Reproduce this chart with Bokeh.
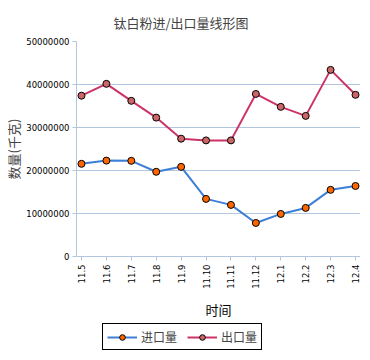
from bokeh.plotting import figure
from bokeh.models import (Range1d, FixedTicker, PrintfTickFormatter, Legend, LegendItem, Title,
                          LinearAxis, Label)
from bokeh.embed import file_html
from bokeh.resources import INLINE

months = ["11.5", "11.6", "11.7", "11.8", "11.9", "11.10", "11.11", "11.12", "12.1", "12.2", "12.3", "12.4"]
imports = [21550000, 22300000, 22250000, 19700000, 20850000, 13400000, 12000000, 7800000, 9900000, 11300000, 15500000, 16400000]
exports = [37400000, 40150000, 36200000, 32300000, 27400000, 27000000, 27000000, 37800000, 34800000, 32700000, 43400000, 37600000]
y_ticks = [0, 10000000, 20000000, 30000000, 40000000, 50000000]

GRID = "#B3C6E0"
CJK = "Noto Sans CJK SC"
NUM = "DejaVu Sans"

xs = list(range(len(months)))
Y_MAX = 50000000
PLOT_H = 215      # pixel height of the value area
EXTRA_H = 95      # room below the value area for tick labels, axis title and legend
y_start = -Y_MAX * EXTRA_H / PLOT_H
X_PAD = 0.2       # small side padding so the first/last tick labels are not clipped

p = figure(frame_width=284, frame_height=PLOT_H + EXTRA_H, output_backend="svg", toolbar_location=None,
           x_range=Range1d(-X_PAD, len(months) - 1 + X_PAD), y_range=Range1d(y_start, Y_MAX),
           min_border_left=70, min_border_right=0, min_border_top=34, min_border_bottom=0)
p.title = None
p.add_layout(Title(text="钛白粉进/出口量线形图", text_font=CJK, text_font_size="13px",
                   text_font_style="normal", align="left", offset=37, standoff=20), "above")

p.background_fill_color = "white"
p.border_fill_color = "white"
p.outline_line_color = None

p.xgrid.visible = False
p.ygrid.grid_line_color = GRID
p.ygrid.grid_line_width = 1
p.ygrid.ticker = FixedTicker(ticks=y_ticks)

p.yaxis.ticker = FixedTicker(ticks=y_ticks)
p.yaxis.formatter = PrintfTickFormatter(format="%d")
p.yaxis.bounds = (0, Y_MAX)
p.xaxis.ticker = FixedTicker(ticks=xs)
p.xaxis.major_label_overrides = {i: m for i, m in enumerate(months)}
p.xaxis.major_label_orientation = 1.5708
p.xaxis.fixed_location = 0

for ax in (p.xaxis, p.yaxis):
    ax.axis_line_color = GRID
    ax.major_tick_line_color = GRID
    ax.major_tick_out = 4
    ax.major_tick_in = 0
    ax.minor_tick_line_color = None
    ax.major_label_text_font = NUM
    ax.major_label_text_font_size = "8.5px"
    ax.major_label_text_color = "black"

p.yaxis.major_label_standoff = 3
p.xaxis.major_label_standoff = 4

# right border of the value area
right_ax = LinearAxis(ticker=FixedTicker(ticks=[]), bounds=(0, Y_MAX), axis_line_color=GRID,
                      major_tick_line_color=None, minor_tick_line_color=None,
                      major_tick_out=0, major_tick_in=0, major_label_standoff=0,
                      major_label_text_font_size="0px")
p.add_layout(right_ax, "right")

# y axis title
p.add_layout(Title(text="数量(千克)", text_font=CJK, text_font_size="13px", text_font_style="normal",
                   align="left", offset=172, standoff=2), "left")

# x axis title
p.add_layout(Label(x=142, y=42, x_units="screen", y_units="screen", text="时间",
                   text_font=CJK, text_font_size="13px", text_align="center",
                   text_baseline="middle", text_color="black"))

l1 = p.line(xs, imports, line_color="#3D7FD6", line_width=2)
c1 = p.scatter(xs, imports, size=7, fill_color="#FF6600", line_color="black", line_width=1)
l2 = p.line(xs, exports, line_color="#CC3366", line_width=2)
c2 = p.scatter(xs, exports, size=7, fill_color="#CC6666", line_color="black", line_width=1)

legend = Legend(items=[LegendItem(label="进口量", renderers=[l1, c1]),
                       LegendItem(label="出口量", renderers=[l2, c2])],
                location=(26, 1), orientation="horizontal",
                label_text_font=CJK, label_text_font_size="12px",
                border_line_color="black", border_line_width=1, border_line_alpha=1,
                background_fill_color="white", background_fill_alpha=1,
                padding=4, margin=0, spacing=10, glyph_width=30, glyph_height=14,
                label_standoff=4, label_height=14)
p.add_layout(legend, "center")

open("out.html", "w").write(file_html(p, INLINE))
